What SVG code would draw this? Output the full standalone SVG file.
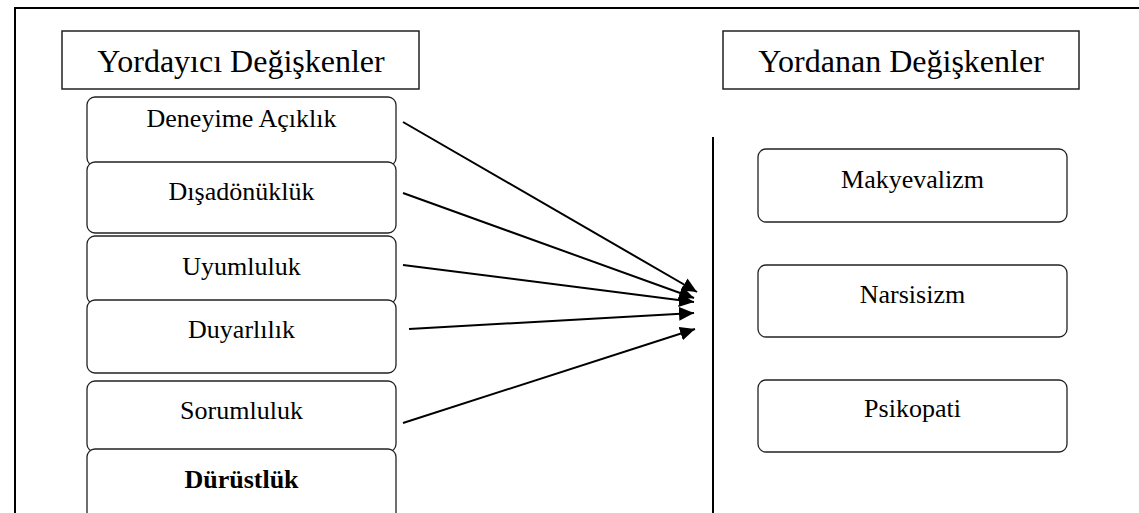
<svg xmlns="http://www.w3.org/2000/svg" width="1139" height="513" viewBox="0 0 1139 513" font-family="'Liberation Serif','Times New Roman',serif">
<style>
text{font-family:"Liberation Serif","Times New Roman",serif;fill:#000;text-anchor:middle}
.h{font-size:32px}
.n{font-size:26px}
.b{font-weight:bold}
.box{fill:#fff;stroke:#222;stroke-width:1.3}
.hb{fill:#fff;stroke:#222;stroke-width:1.5}
.c{stroke:#000;stroke-width:2;fill:none}
</style>
<defs>
<marker id="ah" markerUnits="userSpaceOnUse" markerWidth="16" markerHeight="14" refX="15" refY="7" orient="auto">
<path d="M0,0 L15,7 L0,14 Z" fill="#000"/>
</marker>
</defs>
<rect width="1139" height="513" fill="#fff"/>
<g id="frame">
<path d="M15,513 V8 H1139" fill="none" stroke="#000" stroke-width="2"/>
<line x1="713" y1="137" x2="713" y2="513" stroke="#000" stroke-width="2"/>
</g>
<g id="h-left"><rect class="hb" x="62" y="31" width="357" height="58"/><text class="h" x="241" y="72">Yordayıcı Değişkenler</text></g>
<g id="h-right"><rect class="hb" x="723" y="31" width="356" height="58"/><text class="h" x="901" y="72">Yordanan Değişkenler</text></g>
<g id="n-deneyime"><rect class="box" x="87" y="97" width="309" height="69" rx="8"/><text class="n" x="241.5" y="127">Deneyime Açıklık</text></g>
<g id="n-disadonukluk"><rect class="box" x="87" y="162" width="309" height="71" rx="8"/><text class="n" x="241.5" y="200">Dışadönüklük</text></g>
<g id="n-uyumluluk"><rect class="box" x="87" y="236" width="309" height="68" rx="8"/><text class="n" x="241.5" y="275">Uyumluluk</text></g>
<g id="n-duyarlilik"><rect class="box" x="87" y="300" width="309" height="73" rx="8"/><text class="n" x="241.5" y="338">Duyarlılık</text></g>
<g id="n-sorumluluk"><rect class="box" x="87" y="381" width="309" height="71" rx="8"/><text class="n" x="241.5" y="419">Sorumluluk</text></g>
<g id="n-durustluk"><rect class="box" x="87" y="449" width="309" height="90" rx="8"/><text class="n b" x="241.5" y="488">Dürüstlük</text></g>
<g id="n-makyevalizm"><rect class="box" x="758" y="149" width="309" height="73" rx="8"/><text class="n" x="912.5" y="188">Makyevalizm</text></g>
<g id="n-narsisizm"><rect class="box" x="758" y="265" width="309" height="72" rx="8"/><text class="n" x="912.5" y="303">Narsisizm</text></g>
<g id="n-psikopati"><rect class="box" x="758" y="380" width="309" height="72" rx="8"/><text class="n" x="912.5" y="417">Psikopati</text></g>
<g id="connectors">
<line class="c" x1="403" y1="122" x2="697" y2="292" marker-end="url(#ah)"/>
<line class="c" x1="403" y1="193" x2="694" y2="298" marker-end="url(#ah)"/>
<line class="c" x1="403" y1="265" x2="694" y2="302" marker-end="url(#ah)"/>
<line class="c" x1="409" y1="329" x2="694" y2="313" marker-end="url(#ah)"/>
<line class="c" x1="403" y1="423" x2="695" y2="329" marker-end="url(#ah)"/>
</g>
</svg>
